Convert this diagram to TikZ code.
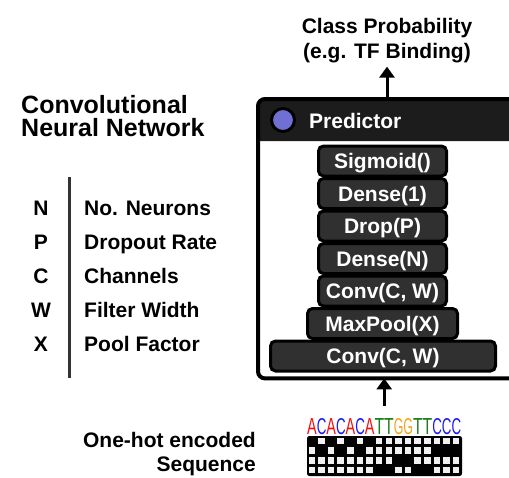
\documentclass[tikz,border=0pt]{standalone}
\usepackage{fontspec}
\usepackage{graphicx}
\setmainfont{Liberation Sans}
\usetikzlibrary{arrows.meta}

\definecolor{hdrgray}{HTML}{1C1C1C}
\definecolor{layergray}{HTML}{303030}
\definecolor{rulegray}{HTML}{333333}
\definecolor{dotblue}{HTML}{7070D4}
\definecolor{baseA}{HTML}{F21212}
\definecolor{baseC}{HTML}{1C1CF0}
\definecolor{baseG}{HTML}{F5A21C}
\definecolor{baseT}{HTML}{1E7E1E}

% one stretched sequence-logo letter
\newcommand{\seqchar}[2]{\resizebox{9.625pt}{16pt}{\color{#1}\fontsize{20}{20}\selectfont #2}}

\begin{document}
\begin{tikzpicture}[x=1pt,y=-1pt,
  txt/.style={font=\bfseries\fontsize{21}{24}\selectfont, inner sep=0pt},
  title/.style={font=\bfseries\fontsize{25}{28}\selectfont, inner sep=0pt},
  layer/.style={draw=black, line width=3pt, fill=layergray, rounded corners=5pt,
    text=white, font=\bfseries\fontsize{21}{24}\selectfont, inner sep=0pt,
    minimum height=30pt, text height=15pt, text depth=0pt},
  arr/.style={line width=3pt, -{Triangle[width=15pt,length=11pt]}},
  rulebar/.style={line width=3pt, draw=rulegray}
]
\useasboundingbox (0,0) rectangle (509,477);
\clip (0,0) rectangle (509,477);

% ---- title and legend ----
\node[title, anchor=base west, text depth=0pt] (title1) at (21,113.5) {Convolutional};
\node[title, anchor=base west] (title2) at (21,136) {Neural Network};

\draw[rulebar] (69,177) -- (69,378);
\foreach \k/\lab [count=\n from 0] in {N/No. Neurons, P/Dropout Rate, C/Channels, W/Filter Width, X/Pool Factor}{
  \node[txt, anchor=base] (key\k) at (41,215+34*\n) {\k};
  \node[txt, anchor=base west] (val\k) at (84,215+34*\n) {\lab};
}

% ---- predictor block ----
\node[fill=white, anchor=north west, minimum width=272pt, minimum height=279pt, inner sep=0pt] (pred) at (258,99) {};
\fill[hdrgray] (258,141) [rounded corners=7pt] -- (258,99) -- (530,99) [sharp corners] -- (530,141) -- cycle;
\draw[line width=4pt, rounded corners=7pt] (pred.north west) rectangle (pred.south east);
\node[circle, draw=black, line width=3pt, fill=dotblue, minimum size=23pt, inner sep=0pt] (dot) at (283,120) {};
\node[anchor=base west, text=white, font=\bfseries\fontsize{21}{24}\selectfont, inner sep=0pt] (predlbl) at (309,128) {Predictor};

\node[layer, minimum width=128pt] (L1) at (382.5,161) {Sigmoid()};
\node[layer, minimum width=128pt] (L2) at (382.5,193.5) {Dense(1)};
\node[layer, minimum width=128pt] (L3) at (382.5,226) {Drop(P)};
\node[layer, minimum width=128pt] (L4) at (382.5,258.5) {Dense(N)};
\node[layer, minimum width=128pt] (L5) at (382.5,291) {Conv(C, W)};
\node[layer, minimum width=150pt] (L6) at (382.5,323.5) {MaxPool(X)};
\node[layer, minimum width=225pt] (L7) at (383,356) {Conv(C, W)};

% ---- output label ----
\node[txt, anchor=base] (cls1) at (387,33) {Class Probability};
\node[txt, anchor=base, inner sep=1pt] (cls2) at (387,58) {(e.g. TF Binding)};
\draw[arr] (pred.north -| cls2) -- ([yshift=-3pt]cls2.south);

% ---- one-hot encoded input ----
\node[txt, anchor=base east] (in1) at (256,447) {One-hot encoded};
\node[txt, anchor=base east] (in2) at (256,471) {Sequence};

\node[anchor=south west, inner sep=0pt] (seq) at (307,435) {%
  \seqchar{baseA}{A}\seqchar{baseC}{C}\seqchar{baseA}{A}\seqchar{baseC}{C}%
  \seqchar{baseA}{A}\seqchar{baseC}{C}\seqchar{baseA}{A}\seqchar{baseT}{T}%
  \seqchar{baseT}{T}\seqchar{baseG}{G}\seqchar{baseG}{G}\seqchar{baseT}{T}%
  \seqchar{baseT}{T}\seqchar{baseC}{C}\seqchar{baseC}{C}\seqchar{baseC}{C}};

\node[draw=black, fill=black, line width=1pt, rounded corners=2pt, anchor=north west,
  minimum width=154pt, minimum height=39pt, inner sep=0pt] (onehot) at (307,436) {};
\foreach \row [count=\j] in {
  {1,0,1,0,1,0,1,0,0,0,0,0,0,0,0,0},
  {0,1,0,1,0,1,0,0,0,0,0,0,0,1,1,1},
  {0,0,0,0,0,0,0,0,0,1,1,0,0,0,0,0},
  {0,0,0,0,0,0,0,1,1,0,0,1,1,0,0,0}}{
  \foreach \v [count=\i] in \row {
    \ifnum\v=0
      \fill[white!94!black] ({307+9.625*(\i-0.5)-3.3},{436+9.75*(\j-0.5)-3.3}) rectangle ++(6.6,6.6);
    \fi
  }
}

\draw[arr] ([yshift=12pt]seq.north) -- (seq.north |- pred.south);
\end{tikzpicture}
\end{document}
